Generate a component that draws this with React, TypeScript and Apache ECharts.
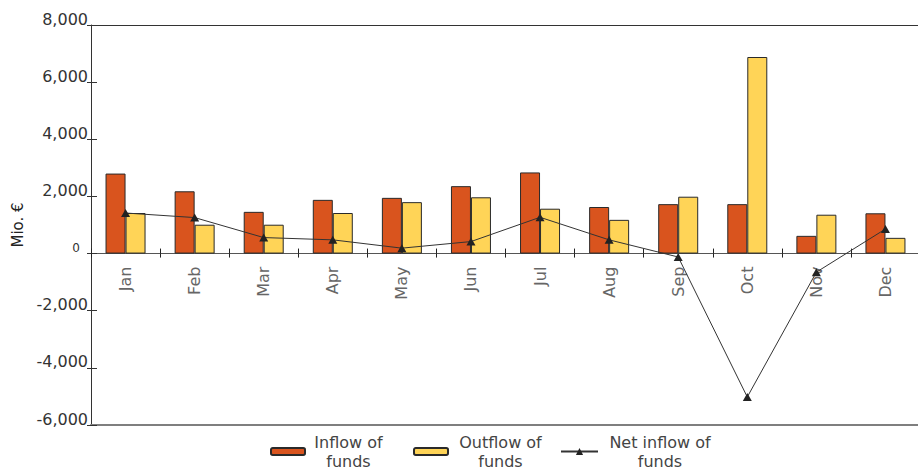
import React, { useEffect, useRef } from "react";
import * as echarts from "echarts";

const categories = ["Jan", "Feb", "Mar", "Apr", "May", "Jun", "Jul", "Aug", "Sep", "Oct", "Nov", "Dec"];
const inflow = [2800, 2180, 1460, 1880, 1950, 2360, 2840, 1630, 1730, 1730, 620, 1410];
const outflow = [1420, 1010, 1010, 1420, 1800, 1970, 1570, 1180, 1990, 6880, 1360, 550];
const netInflow = [1420, 1260, 560, 480, 190, 420, 1270, 480, -120, -5020, -650, 860];
const seriesNames = ["Inflow of funds", "Outflow of funds", "Net inflow of funds"];
const legendLines = [["Inflow of", "funds"], ["Outflow of", "funds"], ["Net inflow of", "funds"]];
const yMin = -6000;
const yMax = 8000;
const yStep = 2000;

const FONT = "DejaVu Sans";
const GRID_TOP = 25;
const GRID_BOTTOM = 45;
const H = 470;

export default function App() {
  const ref = useRef<HTMLDivElement>(null);
  useEffect(() => {
    if (!ref.current) return;
    const chart = echarts.init(ref.current, null, { renderer: "svg" });
    const plotH = H - GRID_TOP - GRID_BOTTOM;
    // distance from the grid bottom up to the value-0 line, from the axis scale
    const zeroOffset = (plotH * (0 - yMin)) / (yMax - yMin);
    const mkLegend = (i: number, left: number, w: number, itemW: number, itemH: number) => ({
      show: true,
      data: [seriesNames[i]],
      left,
      top: 434,
      padding: 0,
      itemWidth: itemW,
      itemHeight: itemH,
      selectedMode: false,
      formatter: () => legendLines[i].map((s) => `{t|${s}}`).join("\n"),
      textStyle: {
        fontFamily: FONT,
        rich: {
          t: { width: w, align: "center", fontSize: 16, lineHeight: 19, color: "#444", fontFamily: FONT },
        },
      },
    });
    const catAxisBase = {
      type: "category",
      data: categories,
      boundaryGap: true,
    };
    const option: any = {
      animation: false,
      textStyle: { fontFamily: FONT },
      grid: { left: 91, right: -2, top: GRID_TOP, bottom: GRID_BOTTOM, containLabel: false, outerBoundsMode: "none" },
      legend: [mkLegend(0, 270, 77, 34, 7), mkLegend(1, 413, 95, 34, 7), mkLegend(2, 560, 114, 37, 9)],
      xAxis: [
        {
          ...catAxisBase,
          position: "bottom",
          offset: -zeroOffset,
          axisLine: { show: true, onZero: false, lineStyle: { color: "#555", width: 1 } },
          axisTick: { show: true, inside: false, length: 4, lineStyle: { color: "#222" } },
          axisLabel: { rotate: 90, margin: 13, fontSize: 16, color: "#666", fontFamily: FONT },
        },
        {
          ...catAxisBase,
          position: "bottom",
          axisLine: { show: false, onZero: true, onZeroAxisIndex: 0 },
          axisTick: { show: true, inside: true, length: 5, lineStyle: { color: "#222" } },
          axisLabel: { show: false },
        },
        {
          ...catAxisBase,
          position: "bottom",
          axisLine: { show: true, onZero: false, lineStyle: { color: "#7f7f7f", width: 2 } },
          axisTick: { show: false },
          axisLabel: { show: false },
        },
        {
          ...catAxisBase,
          position: "top",
          axisLine: { show: true, onZero: false, lineStyle: { color: "#333", width: 1 } },
          axisTick: { show: false },
          axisLabel: { show: false },
        },
      ],
      yAxis: [
        {
          type: "value",
          position: "left",
          min: yMin,
          max: yMax,
          interval: yStep,
          name: "Mio. €",
          nameLocation: "middle",
          nameGap: 64,
          nameTextStyle: { fontSize: 15, color: "#222", fontFamily: FONT },
          splitLine: { show: false },
          axisLine: { show: true, onZero: false, lineStyle: { color: "#333", width: 1 } },
          axisTick: { show: true, inside: false, length: 4, lineStyle: { color: "#333" } },
          axisLabel: {
            margin: 3,
            verticalAlign: "bottom",
            formatter: (v: number) =>
              v === 0 ? "{z|0}" : `{n|${v.toLocaleString("en-US")}}`,
            rich: {
              n: { fontSize: 16, lineHeight: 12, color: "#333", fontFamily: FONT },
              z: { fontSize: 12, lineHeight: 12, color: "#333", fontFamily: FONT, padding: [0, 8, 0, 0] },
            },
          },
        },
        {
          type: "value",
          position: "left",
          min: yMin,
          max: yMax,
          interval: yStep,
          splitLine: { show: false },
          axisLine: { show: false, onZero: false },
          axisTick: { show: true, inside: true, length: 6, lineStyle: { color: "#333" } },
          axisLabel: { show: false },
        },
      ],
      series: [
        {
          name: seriesNames[0],
          type: "bar",
          data: inflow,
          barWidth: 20,
          barGap: "0%",
          itemStyle: { color: "#D9541E", borderColor: "#2a2a2a", borderWidth: 1 },
        },
        {
          name: seriesNames[1],
          type: "bar",
          data: outflow,
          barWidth: 20,
          barGap: "0%",
          itemStyle: { color: "#FFD457", borderColor: "#2a2a2a", borderWidth: 1 },
        },
        {
          name: seriesNames[2],
          type: "line",
          data: netInflow,
          symbol: "triangle",
          symbolSize: [9, 8],
          z: 5,
          lineStyle: { color: "#333", width: 1 },
          itemStyle: { color: "#222" },
        },
      ],
    };
    chart.setOption(option);
    return () => chart.dispose();
  }, []);
  return (
    <div
      ref={ref}
      style={{ position: "fixed", left: 0, top: 0, width: 918, height: 470, background: "#fff" }}
    />
  );
}
